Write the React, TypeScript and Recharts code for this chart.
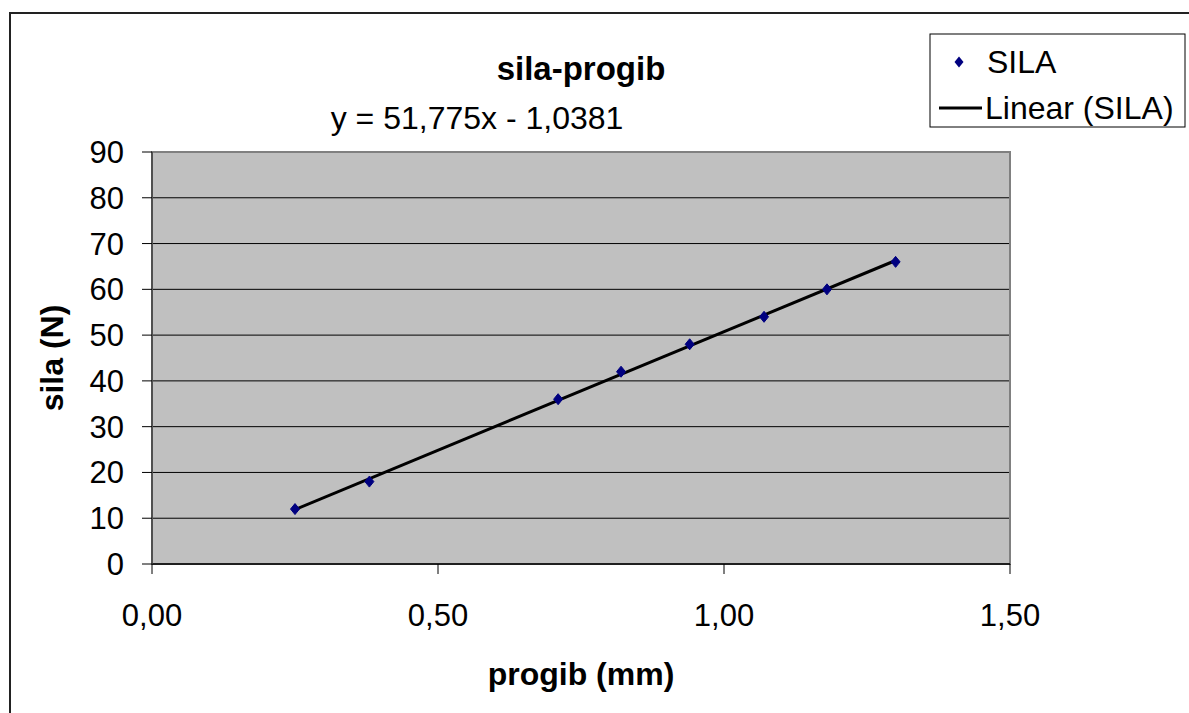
import React from 'react';
import {
  ScatterChart,
  Scatter,
  XAxis,
  YAxis,
  CartesianGrid,
  ReferenceArea,
  Customized,
} from 'recharts';

const PROGIB = [0.25, 0.38, 0.71, 0.82, 0.94, 1.07, 1.18, 1.3];
const SILA = [12, 18, 36, 42, 48, 54, 60, 66];
const TREND_X = [0.25, 1.3];
const TREND_Y = [11.9, 66.3];
const X_TICKS = [0, 0.5, 1, 1.5];
const Y_TICKS = [0, 10, 20, 30, 40, 50, 60, 70, 80, 90];

const FONT = '"Liberation Sans", Arial, sans-serif';
const NAVY = '#000080';

const points = PROGIB.map((x, i) => ({ x, y: SILA[i] }));
const trend = TREND_X.map((x, i) => ({ x, y: TREND_Y[i] }));

function Diamond(props: any) {
  const { cx, cy } = props;
  if (cx == null || cy == null) return <g />;
  return (
    <polygon
      points={`${cx},${cy - 5.5} ${cx + 4.5},${cy} ${cx},${cy + 5.5} ${cx - 4.5},${cy}`}
      fill={NAVY}
      stroke={NAVY}
      strokeWidth={1}
    />
  );
}

function Annotations() {
  return (
    <g style={{ fontFamily: FONT }}>
      <text x={581} y={80} textAnchor="middle" fontSize={33} fontWeight="bold" fill="#000">
        sila-progib
      </text>
      <text x={477} y={129} textAnchor="middle" fontSize={32} fill="#000">
        y = 51,775x - 1,0381
      </text>
      {/* legend */}
      <rect x={930} y={34} width={255} height={93} fill="#fff" stroke="#000" strokeWidth={1} />
      <polygon points="959,56.5 963.5,62 959,67.5 954.5,62" fill={NAVY} />
      <text x={987} y={73} fontSize={32} fill="#000">SILA</text>
      <line x1={939} y1={108} x2={982} y2={108} stroke="#000" strokeWidth={3} />
      <text x={985} y={119} fontSize={32} fill="#000">Linear (SILA)</text>
    </g>
  );
}

export default function App() {
  return (
    <div
      style={{
        position: 'fixed',
        left: 0,
        top: 0,
        width: 1189,
        height: 713,
        overflow: 'hidden',
        background: '#fff',
        fontFamily: FONT,
      }}
    >
      <div
        style={{
          position: 'absolute',
          left: 9,
          top: 12,
          width: 1200,
          height: 720,
          border: '2px solid #222',
          boxSizing: 'border-box',
        }}
      />
      <div style={{ position: 'absolute', left: 0, top: 0 }}>
        <ScatterChart
          width={1189}
          height={713}
          margin={{ top: 152, right: 179, left: 20, bottom: 28 }}
        >
          <CartesianGrid
            horizontal
            vertical={false}
            stroke="#000"
            fill="#C0C0C0"
            fillOpacity={1}
          />
          <ReferenceArea
            x1={0}
            x2={1.5}
            y1={0}
            y2={90}
            fill="none"
            stroke="#808080"
            strokeWidth={2}
          />
          <XAxis
            type="number"
            dataKey="x"
            domain={[0, 1.5]}
            ticks={X_TICKS}
            tickFormatter={(v: number) => v.toFixed(2).replace('.', ',')}
            height={121}
            tickSize={10}
            tickMargin={30}
            axisLine={{ stroke: '#000', strokeWidth: 1.5 }}
            tickLine={{ stroke: '#000' }}
            tick={{ fill: '#000', fontSize: 31, fontFamily: FONT }}
            label={{
              value: 'progib (mm)',
              position: 'insideBottom',
              offset: 0,
              style: { fill: '#000', fontSize: 32, fontWeight: 'bold', fontFamily: FONT },
            }}
          />
          <YAxis
            type="number"
            dataKey="y"
            domain={[0, 90]}
            ticks={Y_TICKS}
            width={132}
            tickSize={10}
            tickMargin={18}
            axisLine={{ stroke: '#404040', strokeWidth: 1.5 }}
            tickLine={{ stroke: '#000' }}
            tick={{ fill: '#000', fontSize: 31, fontFamily: FONT }}
            label={{
              value: 'sila (N)',
              angle: -90,
              position: 'insideLeft',
              offset: 32,
              style: {
                fill: '#000',
                fontSize: 32,
                fontWeight: 'bold',
                fontFamily: FONT,
                textAnchor: 'middle',
              },
            }}
          />
          <Scatter
            name="Linear (SILA)"
            data={trend}
            line={{ stroke: '#000', strokeWidth: 3 }}
            shape={() => <g />}
            isAnimationActive={false}
          />
          <Scatter
            name="SILA"
            data={points}
            fill={NAVY}
            shape={Diamond}
            isAnimationActive={false}
          />
          <Customized component={Annotations} />
        </ScatterChart>
      </div>
    </div>
  );
}
